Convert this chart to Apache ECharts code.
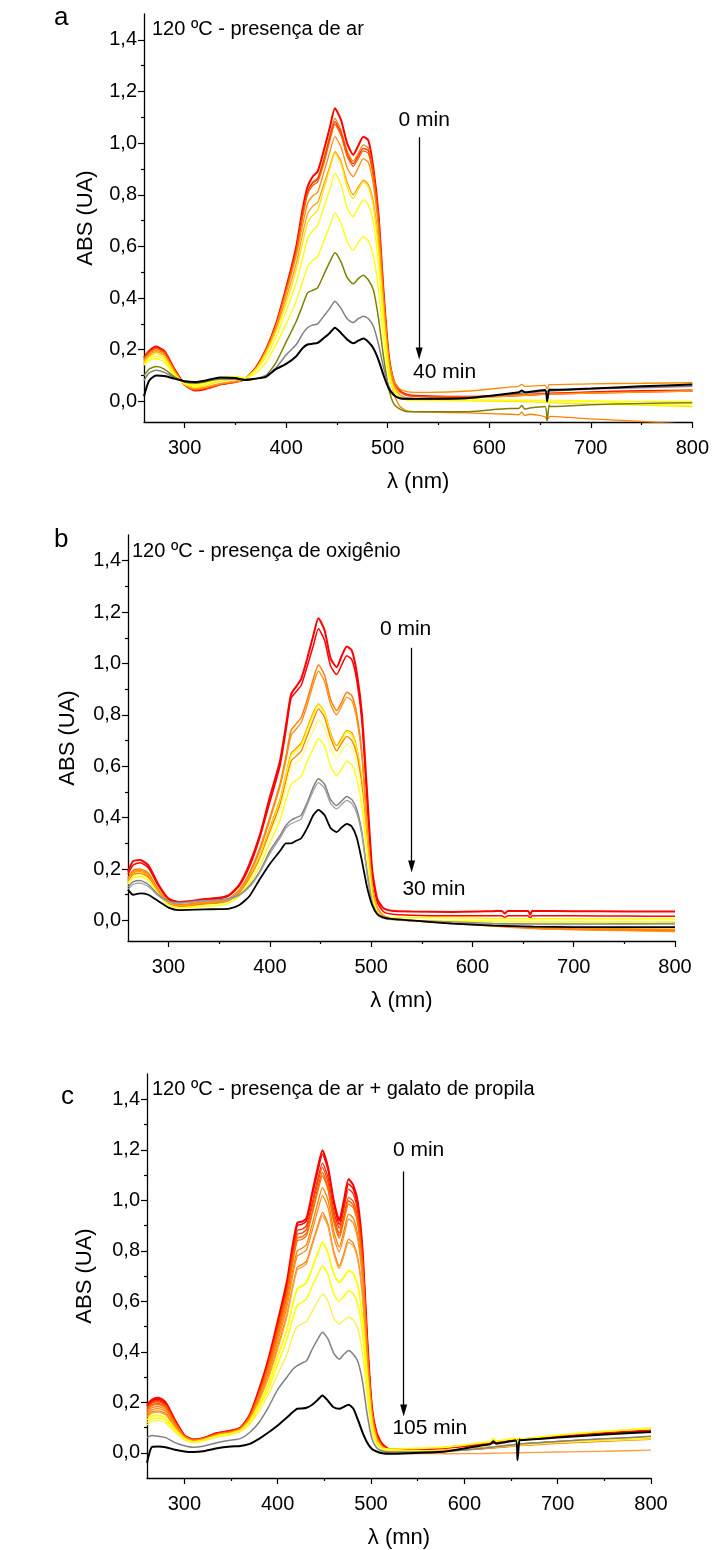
<!DOCTYPE html>
<html><head><meta charset="utf-8">
<script src="https://cdn.jsdelivr.net/npm/echarts@6/dist/echarts.min.js"></script>
<style>html,body{margin:0;padding:0;background:#fff}#c{width:712px;height:1550px}</style>
</head><body><div id="c"></div>
<script>
// wavelength grid (nm)
const W = [260,265,272,280,290,300,310,320,335,350,360,370,380,390,400,410,416,421,426,431,437,443,448,454,460,466,471,476,481,486,491,496,501,506,512,520,540,580,620,660,700,750,800];
const X_MAJOR = [300,400,500,600,700,800];
const X_MINOR = [350,450,550,650,750];
const Y_MAJOR = [0,0.2,0.4,0.6,0.8,1.0,1.2,1.4];
const Y_MINOR = [0.1,0.3,0.5,0.7,0.9,1.1,1.3];

// ---- panel a : 120 ºC - presença de ar ----
const A_R1 = [0.17,0.195,0.212,0.195,0.125, 0.065,0.042,0.047,0.065,0.075, 0.088,0.13,0.2,0.3,0.44, 0.6,0.74,0.83,0.87,0.89, 0.97,1.06,1.135,1.09,1.0, 0.955,0.99,1.025,1.01,0.9, 0.72,0.42,0.18,0.08,0.04, 0.025,0.02,0.018,0.022,0.03, 0.035,0.04,0.042];
const A_O1 = [0.165,0.19,0.205,0.19,0.12, 0.062,0.045,0.05,0.066,0.074, 0.085,0.125,0.195,0.29,0.43, 0.585,0.72,0.81,0.85,0.865, 0.94,1.03,1.096,1.05,0.97, 0.93,0.96,0.993,0.98,0.88, 0.7,0.4,0.15,0.03,-0.02, -0.038,-0.042,-0.045,-0.05,-0.058, -0.068,-0.078,-0.09];
const A_R2 = [0.168,0.192,0.208,0.192,0.122, 0.063,0.044,0.049,0.066,0.075, 0.087,0.128,0.198,0.295,0.435, 0.59,0.72,0.81,0.845,0.86, 0.93,1.02,1.083,1.04,0.96, 0.92,0.95,0.98,0.97,0.875, 0.7,0.41,0.17,0.075,0.038, 0.022,0.018,0.017,0.022,0.028, 0.032,0.036,0.04];
const A_R3 = [0.163,0.188,0.204,0.188,0.12, 0.063,0.045,0.05,0.067,0.075, 0.087,0.127,0.197,0.293,0.43, 0.58,0.71,0.8,0.835,0.85, 0.92,1.01,1.073,1.03,0.95, 0.91,0.94,0.97,0.96,0.865, 0.69,0.4,0.165,0.072,0.036, 0.022,0.018,0.018,0.024,0.03, 0.034,0.038,0.042];
const A_O2 = [0.16,0.183,0.198,0.183,0.118, 0.064,0.047,0.052,0.068,0.076, 0.086,0.126,0.195,0.29,0.42, 0.565,0.68,0.765,0.795,0.81, 0.885,0.965,1.025,0.985,0.905, 0.87,0.905,0.94,0.925,0.835, 0.665,0.39,0.17,0.08,0.048, 0.037,0.035,0.04,0.055,0.065, 0.068,0.07,0.072];
const A_O3 = [0.155,0.178,0.192,0.178,0.115, 0.064,0.05,0.055,0.07,0.078, 0.086,0.125,0.19,0.28,0.4, 0.535,0.645,0.725,0.755,0.77, 0.84,0.91,0.967,0.93,0.85, 0.8,0.83,0.857,0.84,0.77, 0.615,0.36,0.15,0.06,0.025, 0.012,0.01,0.012,0.02,0.028, 0.032,0.036,0.04];
const A_Y1 = [0.15,0.172,0.185,0.17,0.11, 0.066,0.055,0.06,0.078,0.085, 0.09,0.125,0.185,0.27,0.38, 0.51,0.61,0.69,0.72,0.74, 0.82,0.9,0.96,0.92,0.83, 0.785,0.82,0.85,0.83,0.75, 0.59,0.33,0.13,0.05,0.015, 0.006,0.004,0.002,0.0,-0.005, -0.01,-0.015,-0.02];
const A_Y2 = [0.145,0.165,0.175,0.162,0.105, 0.067,0.06,0.066,0.085,0.09, 0.089,0.12,0.17,0.25,0.35, 0.46,0.55,0.63,0.66,0.68, 0.75,0.82,0.883,0.84,0.75, 0.715,0.75,0.78,0.76,0.69, 0.53,0.3,0.12,0.045,0.015, 0.005,0.004,0.004,0.003,0.002, 0.002,0.0,0.0];
const A_Y3 = [0.14,0.158,0.165,0.152,0.1, 0.069,0.065,0.072,0.092,0.097, 0.09,0.11,0.15,0.22,0.3, 0.39,0.46,0.52,0.545,0.56, 0.62,0.68,0.73,0.69,0.62, 0.585,0.615,0.638,0.62,0.56, 0.43,0.24,0.1,0.04,0.015, 0.005,0.006,0.006,0.005,0.004, 0.0,-0.01,-0.015];
const A_OL = [0.1,0.125,0.135,0.125,0.095, 0.075,0.07,0.075,0.087,0.087, 0.082,0.087,0.1,0.15,0.23, 0.31,0.37,0.42,0.43,0.44, 0.49,0.54,0.575,0.54,0.48, 0.455,0.475,0.488,0.47,0.43, 0.32,0.17,0.05,-0.01,-0.03, -0.04,-0.04,-0.04,-0.028,-0.02, -0.013,-0.008,-0.005];
const A_GR = [0.08,0.11,0.12,0.112,0.092, 0.078,0.075,0.08,0.088,0.087, 0.085,0.088,0.1,0.13,0.18, 0.22,0.26,0.285,0.295,0.3, 0.33,0.36,0.388,0.36,0.32, 0.305,0.32,0.33,0.32,0.29, 0.22,0.13,0.06,0.025,0.012, 0.008,0.008,0.012,0.028,0.04, 0.048,0.053,0.058];
const A_BK = [0.02,0.08,0.1,0.098,0.088, 0.078,0.075,0.08,0.092,0.09, 0.083,0.088,0.095,0.125,0.145, 0.175,0.205,0.22,0.223,0.226, 0.245,0.265,0.285,0.265,0.24, 0.225,0.235,0.243,0.23,0.205, 0.16,0.1,0.05,0.025,0.012, 0.01,0.01,0.013,0.03,0.045, 0.05,0.058,0.065];
// narrow instrument artefacts near 630 nm and 657 nm, [nm, ABS]
const A_BK_SPK = [[629,0.035],[632,0.042],[635,0.035],[655,0.044],[657,0.0],[659,0.046]];
const A_OL_SPK = [[629,-0.028],[632,-0.016],[635,-0.03],[640,-0.026],[655,-0.02],[657,-0.075],[659,-0.014]];
const A_O1_SPK = [[629,-0.052],[632,-0.042],[635,-0.055],[640,-0.05],[655,-0.06],[657,-0.072],[659,-0.061]];
const A_O2_SPK = [[629,0.058],[632,0.066],[635,0.058],[655,0.062],[657,0.048],[659,0.066]];

// ---- panel b : 120 ºC - presença de oxigênio ----
const B_R1 = [0.19,0.23,0.235,0.215,0.14, 0.085,0.072,0.075,0.083,0.088, 0.1,0.14,0.22,0.33,0.48, 0.62,0.76,0.88,0.91,0.94, 1.02,1.11,1.176,1.13,1.02, 0.986,1.03,1.066,1.05,0.96, 0.8,0.5,0.2,0.085,0.048, 0.038,0.035,0.033,0.036,0.037, 0.036,0.035,0.035];
const B_R2 = [0.18,0.215,0.225,0.205,0.135, 0.082,0.07,0.073,0.08,0.085, 0.097,0.135,0.21,0.32,0.46, 0.6,0.74,0.865,0.89,0.915, 0.99,1.07,1.135,1.09,0.99, 0.957,0.995,1.03,1.015,0.93, 0.77,0.47,0.18,0.072,0.035, 0.025,0.02,0.018,0.018,0.018, 0.018,0.017,0.016];
const B_O1 = [0.165,0.195,0.2,0.185,0.12, 0.075,0.062,0.064,0.072,0.075, 0.085,0.12,0.185,0.28,0.4, 0.53,0.64,0.74,0.765,0.79, 0.86,0.94,0.995,0.955,0.86, 0.817,0.85,0.888,0.875,0.8, 0.65,0.38,0.14,0.05,0.02, 0.01,0.0,-0.01,-0.02,-0.03, -0.035,-0.038,-0.04];
const B_O2 = [0.16,0.19,0.195,0.18,0.117, 0.073,0.06,0.062,0.07,0.073, 0.083,0.118,0.18,0.27,0.39, 0.52,0.625,0.72,0.745,0.77, 0.84,0.92,0.97,0.93,0.84, 0.8,0.835,0.869,0.855,0.78, 0.63,0.37,0.135,0.048,0.018, 0.008,-0.002,-0.012,-0.022,-0.032, -0.036,-0.04,-0.043];
const B_O3 = [0.155,0.185,0.19,0.175,0.113, 0.07,0.057,0.058,0.066,0.07, 0.08,0.112,0.17,0.25,0.36, 0.47,0.57,0.65,0.67,0.69, 0.75,0.81,0.843,0.81,0.73, 0.68,0.71,0.74,0.73,0.67, 0.54,0.32,0.12,0.045,0.018, 0.008,0.0,-0.008,-0.018,-0.026, -0.03,-0.032,-0.034];
const B_Y1 = [0.15,0.178,0.183,0.168,0.108, 0.066,0.054,0.055,0.062,0.066, 0.077,0.108,0.165,0.245,0.35, 0.46,0.56,0.64,0.66,0.68, 0.74,0.8,0.839,0.805,0.72, 0.66,0.7,0.733,0.72,0.66, 0.53,0.31,0.115,0.04,0.016, 0.01,0.01,0.01,0.008,0.007, 0.006,0.006,0.006];
const B_O4 = [0.15,0.178,0.183,0.168,0.108, 0.066,0.055,0.056,0.064,0.068, 0.078,0.108,0.165,0.24,0.345, 0.45,0.545,0.62,0.64,0.66, 0.72,0.78,0.823,0.79,0.71, 0.66,0.69,0.716,0.7,0.645, 0.52,0.3,0.11,0.04,0.015, 0.006,-0.002,-0.01,-0.02,-0.028, -0.032,-0.035,-0.037];
const B_LY = [0.145,0.17,0.175,0.16,0.103, 0.062,0.05,0.052,0.058,0.062, 0.072,0.1,0.155,0.23,0.33, 0.43,0.52,0.6,0.615,0.63, 0.69,0.74,0.78,0.75,0.67, 0.633,0.66,0.685,0.67,0.61, 0.49,0.28,0.1,0.035,0.012, 0.005,0.002,0.0,-0.002,-0.004, -0.005,-0.006,-0.006];
const B_Y2 = [0.14,0.165,0.17,0.155,0.1, 0.06,0.048,0.05,0.055,0.058, 0.068,0.095,0.145,0.21,0.3, 0.39,0.47,0.53,0.545,0.56, 0.62,0.67,0.707,0.68,0.6, 0.564,0.59,0.62,0.605,0.55, 0.44,0.25,0.09,0.03,0.01, 0.004,0.0,-0.003,-0.005,-0.006, -0.006,-0.006,-0.006];
const B_G1 = [0.13,0.15,0.155,0.14,0.1, 0.075,0.07,0.072,0.078,0.08, 0.085,0.1,0.135,0.19,0.27, 0.33,0.37,0.39,0.4,0.41, 0.46,0.52,0.551,0.53,0.47, 0.447,0.465,0.482,0.47,0.43, 0.34,0.19,0.07,0.025,0.01, 0.005,0.0,-0.006,-0.012,-0.014, -0.014,-0.013,-0.012];
const B_G2 = [0.12,0.14,0.145,0.132,0.095, 0.072,0.067,0.07,0.076,0.078, 0.083,0.098,0.13,0.185,0.26, 0.32,0.36,0.376,0.385,0.395, 0.45,0.505,0.536,0.515,0.455, 0.434,0.452,0.467,0.455,0.415, 0.33,0.18,0.065,0.022,0.008, 0.003,-0.002,-0.008,-0.014,-0.016, -0.016,-0.015,-0.014];
const B_BK = [0.12,0.1,0.105,0.1,0.075, 0.05,0.04,0.041,0.043,0.044, 0.046,0.06,0.095,0.16,0.22, 0.27,0.3,0.3,0.31,0.32, 0.36,0.41,0.43,0.41,0.36, 0.344,0.362,0.376,0.365,0.32, 0.23,0.13,0.06,0.025,0.012, 0.006,0.0,-0.012,-0.02,-0.024, -0.026,-0.026,-0.026];
const B_R1_SPK = [[629,0.037],[632,0.027],[635,0.037],[655,0.037],[657,0.022],[659,0.038]];
const B_R2_SPK = [[629,0.018],[632,0.012],[635,0.018],[655,0.018],[657,0.008],[659,0.018]];

// ---- panel c : 120 ºC - presença de ar + galato de propila ----
const C_01 = [0.19,0.21,0.218,0.2,0.13, 0.07,0.052,0.058,0.078,0.088, 0.1,0.15,0.25,0.37,0.52, 0.68,0.82,0.91,0.915,0.93, 1.03,1.13,1.198,1.13,1.0, 0.92,1.0,1.084,1.06,0.99, 0.8,0.45,0.18,0.08,0.035, 0.014,0.014,0.02,0.035,0.052, 0.065,0.078,0.088];
const C_02 = [0.185,0.205,0.212,0.195,0.127, 0.069,0.052,0.058,0.077,0.087, 0.099,0.148,0.245,0.36,0.51, 0.67,0.81,0.9,0.905,0.92, 1.02,1.115,1.182,1.12,0.99, 0.905,0.985,1.064,1.045,0.97, 0.79,0.44,0.175,0.075,0.032, 0.013,0.013,0.019,0.033,0.05, 0.062,0.075,0.085];
const C_03 = [0.18,0.2,0.207,0.19,0.124, 0.068,0.051,0.057,0.076,0.086, 0.098,0.146,0.24,0.355,0.5, 0.655,0.79,0.88,0.885,0.9, 0.99,1.085,1.147,1.09,0.96, 0.89,0.965,1.044,1.025,0.95, 0.77,0.43,0.17,0.07,0.028, 0.01,0.008,0.01,0.02,0.035, 0.045,0.055,0.062];
const C_04 = [0.175,0.196,0.202,0.186,0.121, 0.067,0.05,0.056,0.075,0.085, 0.097,0.144,0.235,0.35,0.49, 0.645,0.775,0.865,0.87,0.885, 0.975,1.07,1.13,1.07,0.94, 0.87,0.94,1.011,0.995,0.925, 0.75,0.42,0.165,0.068,0.027, 0.01,0.008,0.01,0.019,0.033, 0.043,0.052,0.06];
const C_05 = [0.17,0.19,0.196,0.181,0.118, 0.066,0.05,0.055,0.074,0.084, 0.096,0.142,0.23,0.34,0.48, 0.63,0.76,0.85,0.855,0.87, 0.955,1.05,1.11,1.05,0.925, 0.86,0.93,0.998,0.98,0.91, 0.74,0.41,0.16,0.066,0.026, 0.009,0.007,0.009,0.018,0.032, 0.042,0.05,0.058];
const C_06 = [0.165,0.185,0.191,0.177,0.116, 0.065,0.049,0.055,0.073,0.083, 0.095,0.14,0.226,0.335,0.47, 0.62,0.75,0.84,0.845,0.86, 0.945,1.035,1.097,1.04,0.915, 0.85,0.92,0.985,0.97,0.9, 0.73,0.4,0.158,0.064,0.025, 0.009,0.007,0.009,0.018,0.031, 0.041,0.049,0.057];
const C_07 = [0.158,0.178,0.183,0.17,0.112, 0.063,0.048,0.054,0.072,0.082, 0.094,0.137,0.22,0.325,0.455, 0.6,0.72,0.8,0.81,0.825, 0.905,0.99,1.05,1.0,0.88, 0.815,0.88,0.945,0.93,0.86, 0.7,0.385,0.15,0.06,0.024, 0.008,0.006,0.008,0.017,0.03, 0.04,0.048,0.056];
const C_08 = [0.152,0.17,0.175,0.163,0.108, 0.062,0.047,0.053,0.071,0.081, 0.093,0.135,0.215,0.315,0.44, 0.58,0.7,0.78,0.79,0.805, 0.88,0.96,1.018,0.97,0.855, 0.795,0.86,0.925,0.91,0.84, 0.68,0.375,0.145,0.058,0.023, 0.007,0.005,0.007,0.016,0.029, 0.039,0.047,0.055];
const C_09 = [0.145,0.162,0.166,0.155,0.103, 0.06,0.046,0.052,0.07,0.08, 0.092,0.132,0.208,0.3,0.42, 0.55,0.66,0.735,0.745,0.76, 0.83,0.9,0.952,0.905,0.8, 0.74,0.79,0.846,0.83,0.77, 0.62,0.345,0.135,0.054,0.021, 0.006,0.004,0.006,0.015,0.028, 0.037,0.045,0.053];
const C_10 = [0.14,0.157,0.161,0.15,0.1, 0.059,0.045,0.051,0.069,0.079, 0.091,0.13,0.205,0.295,0.41, 0.54,0.65,0.725,0.735,0.75, 0.82,0.89,0.939,0.895,0.79, 0.73,0.78,0.833,0.82,0.76, 0.61,0.34,0.13,0.05,0.015, 0.0,-0.003,-0.004,-0.003,0.0, 0.003,0.006,0.01];
const C_11 = [0.13,0.145,0.148,0.138,0.093, 0.056,0.043,0.049,0.067,0.077, 0.088,0.125,0.19,0.27,0.38, 0.49,0.585,0.65,0.66,0.675, 0.73,0.79,0.833,0.79,0.71, 0.675,0.695,0.721,0.71,0.66, 0.53,0.3,0.115,0.045,0.02, 0.014,0.016,0.022,0.04,0.055, 0.07,0.085,0.097];
const C_12 = [0.12,0.135,0.138,0.128,0.088, 0.054,0.042,0.048,0.065,0.075, 0.086,0.12,0.18,0.25,0.35, 0.45,0.53,0.585,0.595,0.61, 0.66,0.705,0.741,0.705,0.63, 0.6,0.62,0.642,0.63,0.585, 0.47,0.26,0.1,0.04,0.016, 0.008,0.008,0.01,0.02,0.033, 0.043,0.052,0.06];
const C_13 = [0.11,0.124,0.127,0.118,0.082, 0.051,0.04,0.046,0.062,0.072, 0.083,0.113,0.165,0.23,0.31, 0.39,0.46,0.5,0.51,0.52, 0.56,0.6,0.629,0.6,0.535, 0.51,0.525,0.537,0.525,0.49, 0.39,0.22,0.085,0.033,0.013, 0.007,0.007,0.009,0.018,0.03, 0.04,0.048,0.055];
const C_14 = [0.06,0.068,0.065,0.06,0.04, 0.028,0.022,0.026,0.04,0.05, 0.056,0.08,0.12,0.18,0.25, 0.3,0.33,0.345,0.355,0.365, 0.41,0.45,0.477,0.45,0.395, 0.37,0.39,0.405,0.39,0.36, 0.28,0.15,0.055,0.02,0.007, 0.003,0.003,0.006,0.018,0.035, 0.045,0.055,0.065];
const C_15 = [-0.04,0.022,0.025,0.022,0.012, 0.005,0.003,0.006,0.018,0.025, 0.027,0.035,0.055,0.08,0.108, 0.14,0.16,0.174,0.175,0.178, 0.19,0.21,0.227,0.205,0.18, 0.174,0.182,0.19,0.175,0.13, 0.08,0.04,0.015,0.005,-0.002, -0.004,-0.002,0.005,0.03,0.05, 0.06,0.072,0.082];
const C_15_SPK = [[628,0.034],[631,0.046],[634,0.036],[655,0.049],[657,-0.03],[659,0.052]];
const C_11_SPK = [[628,0.044],[631,0.056],[634,0.046],[655,0.057],[657,0.035],[659,0.06]];

// annotations: [x, yTop, yBottom] arrow, and text positions
const ARROW_A = [531, 1.023, 0.185];
const ARROW_B = [540, 1.061, 0.21];
const ARROW_C = [535, 1.114, 0.167];
const TXT_A = [[536, 1.09, '0 min'], [556, 0.111, '40 min']];
const TXT_B = [[534, 1.135, '0 min'], [562, 0.123, '30 min']];
const TXT_C = [[551, 1.2, '0 min'], [563, 0.0975, '105 min']];

const FONT = "'Liberation Sans', Arial, Helvetica, sans-serif";
const PANELS = [
  {grid:{left:144, top:14, width:550, height:408}, ymin:-0.08, xname:'λ (nm)', yGap:47, xGap:49,
   curves:[[A_R1,'#ff0000',2],[A_O1,'#ff8000',1.3,A_O1_SPK],[A_R2,'#ff2a00',1.3],[A_R3,'#ff5a00',1.3],[A_O2,'#ff8c00',1.3,A_O2_SPK],[A_O3,'#ff9a1a',1.3],[A_Y1,'#ffe600',1.3],[A_Y2,'#ffff00',1.3],[A_Y3,'#ffff00',1.3],[A_OL,'#808000',1.5,A_OL_SPK],[A_GR,'#808080',1.5],[A_BK,'#000000',2,A_BK_SPK]],
   arrow:ARROW_A, txt:TXT_A},
  {grid:{left:128, top:535, width:547, height:406}, ymin:-0.08, xname:'λ (mn)', yGap:49, xGap:49,
   curves:[[B_R1,'#ff0000',2,B_R1_SPK],[B_R2,'#ff0000',1.5,B_R2_SPK],[B_O1,'#ff8000',1.5],[B_O2,'#ff8c1a',1.3],[B_O3,'#ff9900',1.3],[B_Y1,'#ffff00',1.5],[B_O4,'#ff8000',1.3],[B_LY,'#ffff80',1.3],[B_Y2,'#ffff00',1.3],[B_G1,'#808080',1.5],[B_G2,'#a0a0a0',1.3],[B_BK,'#000000',1.8]],
   arrow:ARROW_B, txt:TXT_B},
  {grid:{left:147, top:1074, width:504, height:405}, ymin:-0.1, xname:'λ (mn)', yGap:51, xGap:49,
   curves:[[C_01,'#ff0000',2],[C_02,'#ff0000',1.5],[C_03,'#ff2a00',1.3],[C_04,'#ff4a00',1.3],[C_05,'#ff6000',1.3],[C_06,'#ff7000',1.3],[C_07,'#ff8000',1.3],[C_08,'#ff8c1a',1.3],[C_09,'#ff8000',1.3],[C_10,'#ffa040',1.3],[C_11,'#ffff00',1.8,C_11_SPK],[C_12,'#ffff00',1.5],[C_13,'#ffee44',1.3],[C_14,'#808080',1.5],[C_15,'#000000',2,C_15_SPK]],
   arrow:ARROW_C, txt:TXT_C}
];

const grids=[], xAxes=[], yAxes=[], series=[];
const fmt = v => v.toFixed(1).replace('.', ',');
PANELS.forEach((p, i) => {
  grids.push(Object.assign({containLabel:false}, p.grid));
  xAxes.push({type:'value', gridIndex:i, min:260, max:800, position:'bottom',
    axisLine:{show:true, onZero:false, lineStyle:{color:'#000', width:1.3}},
    axisTick:{show:true, length:6, customValues:X_MAJOR, lineStyle:{color:'#000', width:1.2}},
    axisLabel:{customValues:X_MAJOR, color:'#000', fontSize:20, fontFamily:FONT, margin:16},
    splitLine:{show:false}, name:p.xname, nameLocation:'middle', nameGap:p.xGap,
    nameTextStyle:{color:'#000', fontSize:22, fontFamily:FONT}});
  xAxes.push({type:'value', gridIndex:i, min:260, max:800, position:'bottom',
    axisLine:{show:false, onZero:false}, axisTick:{show:true, length:3, customValues:X_MINOR, lineStyle:{color:'#000', width:1.2}},
    axisLabel:{show:false}, splitLine:{show:false}});
  yAxes.push({type:'value', gridIndex:i, min:p.ymin, max:1.5, position:'left',
    axisLine:{show:true, onZero:false, lineStyle:{color:'#000', width:1.3}},
    axisTick:{show:true, length:6, customValues:Y_MAJOR, lineStyle:{color:'#000', width:1.2}},
    axisLabel:{customValues:Y_MAJOR, formatter:fmt, color:'#000', fontSize:20, fontFamily:FONT, margin:7},
    splitLine:{show:false}, name:'ABS (UA)', nameLocation:'middle', nameGap:p.yGap,
    nameTextStyle:{color:'#000', fontSize:22, fontFamily:FONT}});
  yAxes.push({type:'value', gridIndex:i, min:p.ymin, max:1.5, position:'left',
    axisLine:{show:false, onZero:false}, axisTick:{show:true, length:3, customValues:Y_MINOR, lineStyle:{color:'#000', width:1.2}},
    axisLabel:{show:false}, splitLine:{show:false}});
  p.curves.forEach((c, k) => {
    let pts = W.map((w, j) => [w, c[0][j]]);
    if (c[3]) pts = pts.concat(c[3]).sort((u, v) => u[0] - v[0]);
    const s = {type:'line', xAxisIndex:2*i, yAxisIndex:2*i, data:pts,
      showSymbol:false, symbol:'none', smooth:0.2, clip:true, animation:false, silent:true,
      lineStyle:{color:c[1], width:c[2]}, z:2+k};
    if (k === p.curves.length - 1) {
      s.markLine = {silent:true, symbol:['none','triangle'], symbolSize:[7,12], symbolRotate:180, animation:false,
        label:{show:false}, lineStyle:{color:'#000', width:1.3, type:'solid'}, itemStyle:{color:'#000'},
        data:[[{coord:[p.arrow[0], p.arrow[1]]},{coord:[p.arrow[0], p.arrow[2]]}]]};
      s.markPoint = {silent:true, symbol:'circle', symbolSize:1, animation:false,
        itemStyle:{color:'rgba(0,0,0,0)'},
        label:{show:true, position:'inside', color:'#000', fontSize:21, fontFamily:FONT, formatter:q => q.name},
        data:p.txt.map(t => ({name:t[2], coord:[t[0], t[1]]}))};
    }
    series.push(s);
  });
});

const TS = {fontWeight:'normal', color:'#000', fontFamily:FONT};
const chart = echarts.init(document.getElementById('c'), null, {renderer:'canvas'});
chart.setOption({
  backgroundColor:'#fff', animation:false,
  title:[
    {text:'a', left:54, top:5, padding:0, textStyle:Object.assign({fontSize:26}, TS)},
    {text:'b', left:54, top:527, padding:0, textStyle:Object.assign({fontSize:26}, TS)},
    {text:'c', left:61, top:1084, padding:0, textStyle:Object.assign({fontSize:26}, TS)},
    {text:'120 ºC - presença de ar', left:152, top:19, padding:0, textStyle:Object.assign({fontSize:20}, TS)},
    {text:'120 ºC - presença de oxigênio', left:132, top:541, padding:0, textStyle:Object.assign({fontSize:20}, TS)},
    {text:'120 ºC - presença de ar + galato de propila', left:152, top:1079, padding:0, textStyle:Object.assign({fontSize:20}, TS)}
  ],
  grid:grids, xAxis:xAxes, yAxis:yAxes, series:series
});
</script></body></html>
